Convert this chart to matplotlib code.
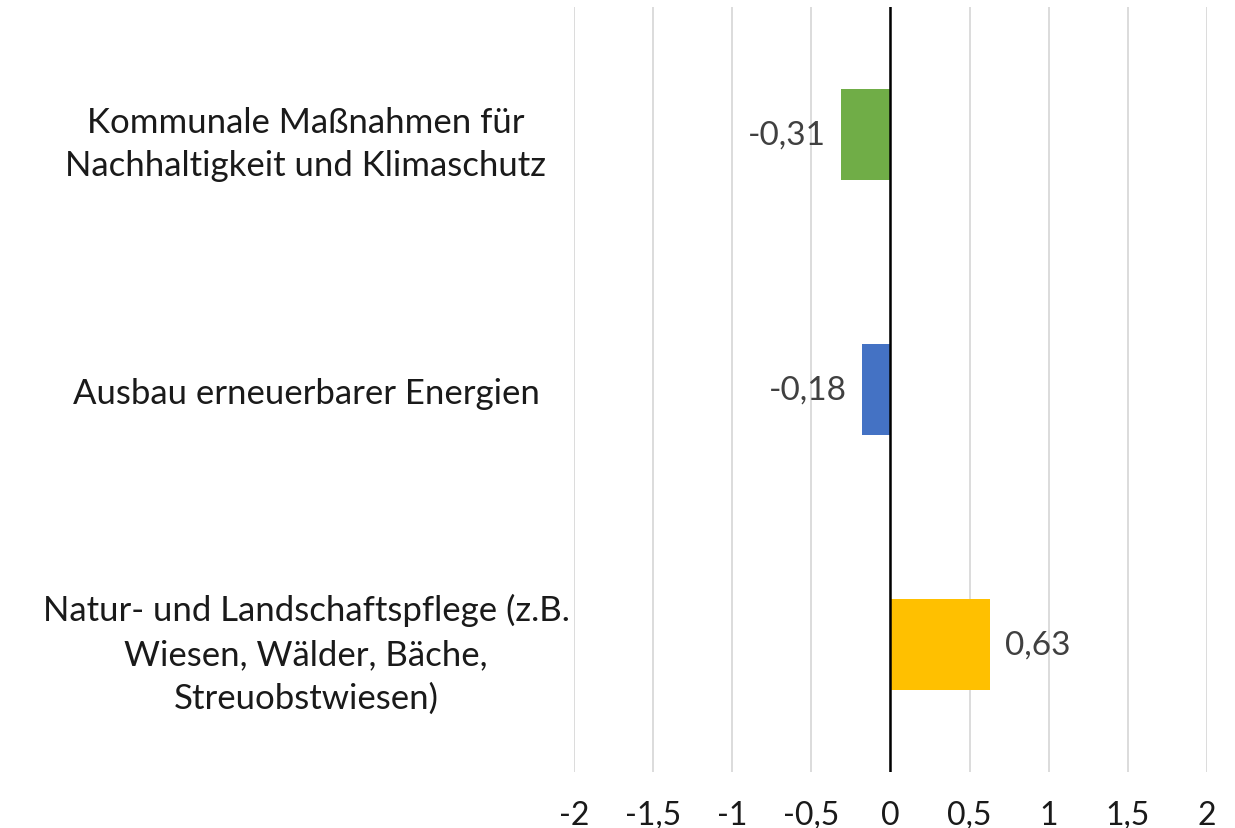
import matplotlib
matplotlib.use("Agg")
import matplotlib.pyplot as plt
import numpy as np

categories = ["Kommunale Maßnahmen für\nNachhaltigkeit und Klimaschutz",
              "Ausbau erneuerbarer Energien",
              "Natur- und Landschaftspflege (z.B.\nWiesen, Wälder, Bäche,\nStreuobstwiesen)"]
values = [-0.31, -0.18, 0.63]
colors = ["#70AD47", "#4472C4", "#FFC000"]
xticks = [-2, -1.5, -1, -0.5, 0, 0.5, 1, 1.5, 2]

plt.rcParams['font.family'] = ['Lato', 'DejaVu Sans']

fig = plt.figure(figsize=(12.35, 8.29), dpi=100)
ax = fig.add_axes([0.4648, 0.0676, 0.5125, 0.9224])

y = np.arange(len(categories))
ax.barh(y, values, height=0.355, color=colors, zorder=3)
ax.set_ylim(len(categories) - 0.5, -0.5)
ax.set_xlim(-2, 2)
ax.set_xticks(xticks)
ax.set_xticklabels([str(t).replace('.', ',') if t != int(t) else str(int(t)) for t in xticks],
                   fontsize=23, color="#1a1a1a")
ax.set_yticks(y)
ax.set_yticklabels(categories, fontsize=25, color="#1a1a1a", ha='center',
                   multialignment='center', linespacing=1.45)
ax.tick_params(axis='y', length=0, pad=193)
ax.tick_params(axis='x', length=0, pad=20)
for s in ax.spines.values():
    s.set_visible(False)
ax.grid(axis='x', color="#D9D9D9", linewidth=1.3, zorder=0)
ax.axvline(0, color='black', linewidth=1.8, zorder=4)

for yi, v in zip(y, values):
    lbl = f"{v:.2f}".replace('.', ',')
    if v < 0:
        ax.annotate(lbl, (v, yi), xytext=(-11, 0), textcoords='offset points',
                    ha='right', va='center', fontsize=24, color="#404040")
    else:
        ax.annotate(lbl, (v, yi), xytext=(11, 0), textcoords='offset points',
                    ha='left', va='center', fontsize=24, color="#404040")

fig.savefig("out.png", dpi=100)
